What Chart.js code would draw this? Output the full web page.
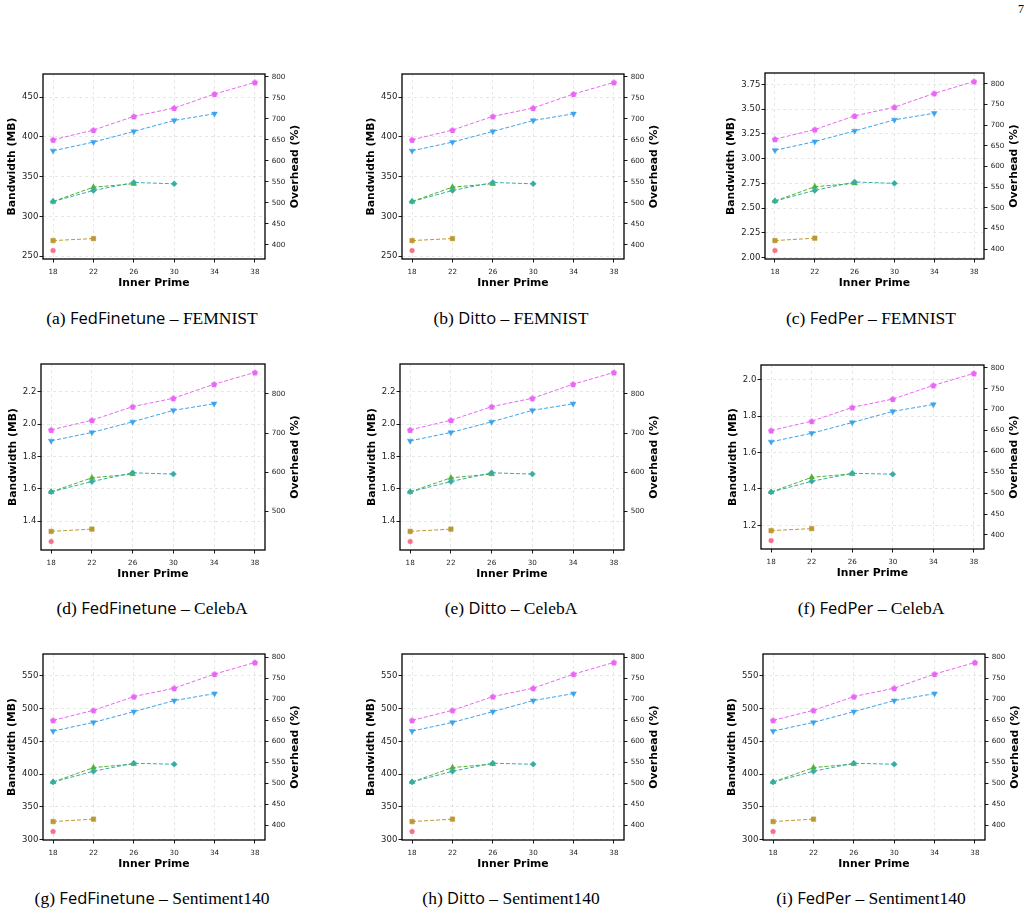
<!DOCTYPE html>
<html>
<head>
<meta charset="utf-8">
<script src="https://cdn.jsdelivr.net/npm/chart.js@4.4.0/dist/chart.umd.min.js"></script>
<style>
  body { margin: 0; background: #fff; }
  #page { position: relative; width: 1033px; height: 914px; overflow: hidden; background: #fff; }
  canvas { position: absolute; }
  .cap { position: absolute; white-space: nowrap; transform: translate(-50%, -50%);
         font-family: 'Liberation Serif', serif; font-size: 17.5px; color: #000; }
  .cap .sf { font-family: 'Open Sans', sans-serif; font-size: 16.5px; }
  #pageno { position: absolute; left: 1018px; top: 2px; font-family: 'Liberation Serif', serif; font-size: 12px; }
</style>
</head>
<body>
<div id="page"><div id="pageno">7</div></div>
<script>
// x positions shared by every panel
const INNER_PRIME = [18, 22, 26, 30, 34, 38];
const X_TICKS = [18, 22, 26, 30, 34, 38];

// bandwidth (MB) per series: circle, square, triangle, diamond, down-triangle, pentagon
const FEMNIST_BW = [
  [257.1],
  [269.7, 272.2],
  [318.8, 336.8, 341.0],
  [318.8, 332.6, 342.7, 341.0],
  [382.5, 393.4, 406.8, 420.6, 429.0],
  [396.3, 408.5, 425.7, 436.2, 453.8, 468.4]
];
const FEMNIST_FEDPER_BW = [
  [2.071],
  [2.172, 2.196],
  [2.571, 2.716, 2.750],
  [2.571, 2.679, 2.764, 2.750],
  [3.084, 3.172, 3.280, 3.392, 3.459],
  [3.196, 3.294, 3.432, 3.520, 3.659, 3.780]
];
const CELEBA_BW = [
  [1.273],
  [1.336, 1.350],
  [1.581, 1.668, 1.691],
  [1.581, 1.645, 1.699, 1.691],
  [1.897, 1.949, 2.015, 2.086, 2.127],
  [1.965, 2.025, 2.109, 2.161, 2.248, 2.321]
];
const CELEBA_FEDPER_BW = [
  [1.116],
  [1.171, 1.182],
  [1.383, 1.464, 1.483],
  [1.383, 1.442, 1.486, 1.481],
  [1.659, 1.706, 1.765, 1.826, 1.864],
  [1.721, 1.772, 1.848, 1.894, 1.969, 2.035]
];
const SENT140_BW = [
  [312.3],
  [327.6, 331.2],
  [387.9, 409.9, 415.5],
  [387.9, 404.3, 416.6, 415.0],
  [465.6, 478.9, 495.3, 512.2, 522.9],
  [482.0, 497.3, 518.3, 531.1, 552.6, 570.4]
];

// baseline bandwidth used for the overhead axis: overhead = (bw / base - 1) * 100
const BASE_FEMNIST = 52.83;
const BASE_FEMNIST_FEDPER = 0.4172;
const BASE_CELEBA = 0.2431;
const BASE_CELEBA_FEDPER = 0.2295;
const BASE_SENT140 = 64.28;

// tick labels
const TICKS_BW_FEMNIST = [250, 300, 350, 400, 450];
const TICKS_BW_FEMNIST_FEDPER = [2.00, 2.25, 2.50, 2.75, 3.00, 3.25, 3.50, 3.75];
const TICKS_BW_CELEBA = [1.4, 1.6, 1.8, 2.0, 2.2];
const TICKS_BW_CELEBA_FEDPER = [1.2, 1.4, 1.6, 1.8, 2.0];
const TICKS_BW_SENT140 = [300, 350, 400, 450, 500, 550];
const TICKS_OVH_50 = [400, 450, 500, 550, 600, 650, 700, 750, 800];
const TICKS_OVH_100 = [500, 600, 700, 800];

const SERIES_NAMES = ['Series 1', 'Series 2', 'Series 3', 'Series 4', 'Series 5', 'Series 6'];

// husl palette
const COLORS = ['#f77189', '#bb9832', '#50b131', '#36ada4', '#3ba3ec', '#e866f4'];

function pentagon(color) {
  const c = document.createElement('canvas');
  c.width = 8; c.height = 8;
  const g = c.getContext('2d');
  g.fillStyle = color;
  g.beginPath();
  for (let k = 0; k < 5; k++) {
    const a = -Math.PI / 2 + k * 2 * Math.PI / 5;
    const px = 4 + 3.3 * Math.cos(a), py = 4.3 + 3.3 * Math.sin(a);
    if (k === 0) g.moveTo(px, py); else g.lineTo(px, py);
  }
  g.closePath();
  g.fill();
  return c;
}

const MARKERS = ['circle', 'rect', 'triangle', 'rectRot', 'triangle', pentagon(COLORS[5])];
const RADII = [2.4, 3.2, 3.3, 3.0, 3.3, 3];
const ROTATION = [0, 0, 0, 0, 180, 0];

const PANELS = [
  { tag: 'a', method: 'FedFinetune', data: 'FEMNIST', bw: FEMNIST_BW, base: BASE_FEMNIST, ticks: TICKS_BW_FEMNIST, dec: 0, ovh: TICKS_OVH_50 },
  { tag: 'b', method: 'Ditto', data: 'FEMNIST', bw: FEMNIST_BW, base: BASE_FEMNIST, ticks: TICKS_BW_FEMNIST, dec: 0, ovh: TICKS_OVH_50 },
  { tag: 'c', method: 'FedPer', data: 'FEMNIST', bw: FEMNIST_FEDPER_BW, base: BASE_FEMNIST_FEDPER, ticks: TICKS_BW_FEMNIST_FEDPER, dec: 2, ovh: TICKS_OVH_50 },
  { tag: 'd', method: 'FedFinetune', data: 'CelebA', bw: CELEBA_BW, base: BASE_CELEBA, ticks: TICKS_BW_CELEBA, dec: 1, ovh: TICKS_OVH_100 },
  { tag: 'e', method: 'Ditto', data: 'CelebA', bw: CELEBA_BW, base: BASE_CELEBA, ticks: TICKS_BW_CELEBA, dec: 1, ovh: TICKS_OVH_100 },
  { tag: 'f', method: 'FedPer', data: 'CelebA', bw: CELEBA_FEDPER_BW, base: BASE_CELEBA_FEDPER, ticks: TICKS_BW_CELEBA_FEDPER, dec: 1, ovh: TICKS_OVH_50 },
  { tag: 'g', method: 'FedFinetune', data: 'Sentiment140', bw: SENT140_BW, base: BASE_SENT140, ticks: TICKS_BW_SENT140, dec: 0, ovh: TICKS_OVH_50 },
  { tag: 'h', method: 'Ditto', data: 'Sentiment140', bw: SENT140_BW, base: BASE_SENT140, ticks: TICKS_BW_SENT140, dec: 0, ovh: TICKS_OVH_50 },
  { tag: 'i', method: 'FedPer', data: 'Sentiment140', bw: SENT140_BW, base: BASE_SENT140, ticks: TICKS_BW_SENT140, dec: 0, ovh: TICKS_OVH_50 }
];

// plot boxes [left, top, right, bottom] and caption centres, in page pixels
const BOXES = [
  [43, 74, 265, 259], [402, 74, 624, 259], [765, 73, 984, 259],
  [41, 364, 265, 550], [400, 364, 624, 550], [761, 365, 984, 549],
  [43, 654, 265, 840], [402, 654, 624, 840], [763, 654, 985, 840]
];
const CAP_X = [152, 511, 871];
const CAP_Y = [317, 607, 897];

const PAD_L = 48, PAD_R = 45, PAD_T = 14, PAD_B = 36;
const FONT = "'DejaVu Sans', sans-serif";
const LEFT_TICK_FONT = { family: FONT, size: 8.5 };
const SMALL_TICK_FONT = { family: FONT, size: 7.2 };
const GRID = { color: 'rgba(0,0,0,0.12)', lineWidth: 0.8, tickColor: '#000', tickLength: 3.5, tickWidth: 0.9 };

const framePlugin = {
  id: 'frame',
  afterDraw(chart) {
    const { ctx, chartArea: a, scales } = chart;
    ctx.save();
    ctx.strokeStyle = '#000';
    ctx.lineWidth = 1.3;
    ctx.strokeRect(a.left, a.top, a.right - a.left, a.bottom - a.top);

    const widest = (scale, font) => {
      ctx.font = font.size + 'px ' + font.family;
      return Math.max(...scale.ticks.map(t => ctx.measureText(t.label).width));
    };
    const wl = widest(scales.y, LEFT_TICK_FONT);
    const wr = widest(scales.y2, SMALL_TICK_FONT);

    ctx.fillStyle = '#000';
    ctx.font = 'bold 10.8px ' + FONT;
    ctx.textAlign = 'center';
    ctx.textBaseline = 'middle';
    const cy = (a.top + a.bottom) / 2;
    ctx.fillText('Inner Prime', (a.left + a.right) / 2, a.bottom + 24);

    ctx.save();
    ctx.translate(a.left - 4.5 - wl - 10, cy);
    ctx.rotate(-Math.PI / 2);
    ctx.fillText('Bandwidth (MB)', 0, 0);
    ctx.restore();

    ctx.save();
    ctx.translate(a.right + 6.7 + wr + 9.3, cy);
    ctx.rotate(-Math.PI / 2);
    ctx.fillText('Overhead (%)', 0, 0);
    ctx.restore();
    ctx.restore();
  }
};

function drawPanel(p, box, idx) {
  const page = document.getElementById('page');
  const [L, T, R, B] = box;
  const canvas = document.createElement('canvas');
  const w = (R - L) + PAD_L + PAD_R, h = (B - T) + PAD_T + PAD_B;
  canvas.width = w; canvas.height = h;
  canvas.style.left = (L - PAD_L) + 'px';
  canvas.style.top = (T - PAD_T) + 'px';
  canvas.style.width = w + 'px'; canvas.style.height = h + 'px';
  page.appendChild(canvas);

  const all = p.bw.flat();
  const lo = Math.min(...all), hi = Math.max(...all), m = (hi - lo) * 0.05;
  const yMin = lo - m, yMax = hi + m;
  const toOvh = v => (v / p.base - 1) * 100;

  const datasets = p.bw.map((vals, i) => ({
    label: SERIES_NAMES[i],
    data: vals.map((v, j) => ({ x: INNER_PRIME[j], y: v })),
    borderColor: COLORS[i],
    backgroundColor: COLORS[i],
    borderWidth: 1,
    borderDash: [4, 2],
    pointStyle: MARKERS[i],
    pointRadius: RADII[i],
    pointRotation: ROTATION[i],
    pointBorderWidth: 0.5,
    order: 10 - i,
    yAxisID: 'y'
  }));

  new Chart(canvas, {
    type: 'line',
    data: { datasets },
    options: {
      responsive: false,
      animation: false,
      devicePixelRatio: 1,
      layout: { padding: { top: PAD_T, left: 0, right: 0, bottom: 0 }, autoPadding: false },
      plugins: { legend: { display: false }, tooltip: { enabled: false } },
      scales: {
        x: {
          type: 'linear', min: 17, max: 39,
          afterBuildTicks: s => { s.ticks = X_TICKS.map(v => ({ value: v })); },
          afterFit: s => { s.height = PAD_B; },
          ticks: { font: SMALL_TICK_FONT, color: '#222', padding: 5, maxRotation: 0, callback: v => String(v) },
          grid: GRID,
          border: { display: false, dash: [3, 3] }
        },
        y: {
          type: 'linear', position: 'left', min: yMin, max: yMax,
          afterBuildTicks: s => { s.ticks = p.ticks.filter(v => v >= yMin && v <= yMax).map(v => ({ value: v })); },
          afterFit: s => { s.width = PAD_L; },
          ticks: { font: LEFT_TICK_FONT, color: '#222', padding: 1.2, callback: v => v.toFixed(p.dec) },
          grid: GRID,
          border: { display: false, dash: [3, 3] }
        },
        y2: {
          type: 'linear', position: 'right', min: toOvh(yMin), max: toOvh(yMax),
          afterBuildTicks: s => { s.ticks = p.ovh.filter(v => v >= toOvh(yMin) && v <= toOvh(yMax)).map(v => ({ value: v })); },
          afterFit: s => { s.width = PAD_R; },
          ticks: { font: SMALL_TICK_FONT, color: '#222', padding: 3.2, callback: v => String(v) },
          grid: { ...GRID, drawOnChartArea: false },
          border: { display: false }
        }
      }
    },
    plugins: [framePlugin]
  });

  const cap = document.createElement('div');
  cap.className = 'cap';
  cap.style.left = CAP_X[idx % 3] + 'px';
  cap.style.top = CAP_Y[Math.floor(idx / 3)] + 'px';
  cap.innerHTML = '(' + p.tag + ') <span class="sf">' + p.method + '</span> – ' + p.data;
  page.appendChild(cap);
}

PANELS.forEach((p, i) => drawPanel(p, BOXES[i], i));
</script>
</body>
</html>
